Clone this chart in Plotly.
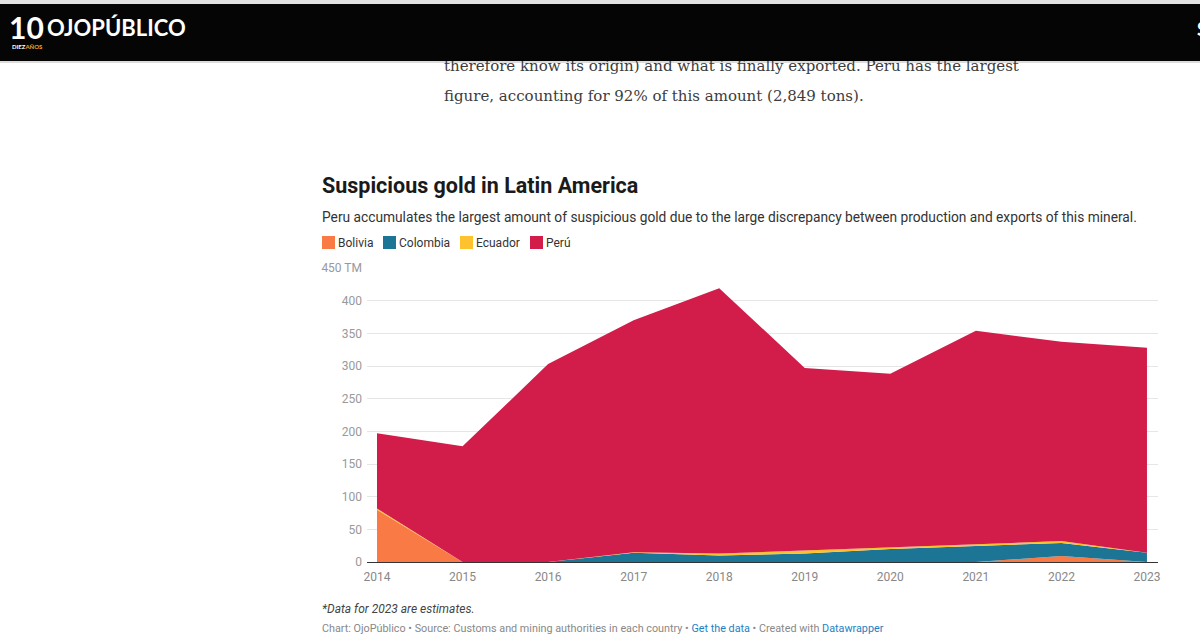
import plotly.graph_objects as go

# ---------------- data ----------------
years = [2014, 2015, 2016, 2017, 2018, 2019, 2020, 2021, 2022, 2023]
bolivia = [80, 0, 0, 0, 0, 0, 0, 0, 9, 0]
colombia = [0, 0, 0, 14, 10, 13, 20, 25, 20, 14]
ecuador = [2, 0, 0, 1, 3, 5, 2, 2, 3, 0]
peru = [115, 177, 303, 355, 406, 279, 266, 327, 305, 314]

series_names = ["Bolivia", "Colombia", "Ecuador", "Perú"]
series_values = [bolivia, colombia, ecuador, peru]
series_colors = ["#f97a45", "#1d7595", "#fdc22d", "#d21c4a"]

y_ticks = [0, 50, 100, 150, 200, 250, 300, 350, 400, 450]
y_ticktext = [str(v) for v in y_ticks[:-1]] + ["450 TM"]

title = "Suspicious gold in Latin America"
subtitle = ("Peru accumulates the largest amount of suspicious gold due to the large "
            "discrepancy between production and exports of this mineral.")
note = "*Data for 2023 are estimates."
link_col = "#1d81c4"
credits = ("Chart: OjoPúblico • Source: Customs and mining authorities in each country • "
           f"<span style='color:{link_col}'>Get the data</span> • Created with "
           f"<span style='color:{link_col}'>Datawrapper</span>")
article_lines = [
    "therefore know its origin) and what is finally exported. Peru has the largest",
    "figure, accounting for 92% of this amount (2,849 tons).",
]

# ---------------- page geometry (pixels) ----------------
W, H = 1200, 643
PL, PR, PT, PB = 367, 1158, 268, 562  # plot area in page pixels


def px(x):
    return (x - PL) / (PR - PL)


def py(y):
    return (PB - y) / (PB - PT)


fig = go.Figure()

for name, vals, col in zip(series_names, series_values, series_colors):
    fig.add_trace(go.Scatter(
        x=years, y=vals, name=name, stackgroup="one", mode="lines",
        line=dict(width=0, color=col), fillcolor=col,
        hovertemplate=name + " %{x}: %{y}<extra></extra>",
    ))

shapes = [
    dict(type="rect", xref="paper", yref="paper", x0=px(0), x1=px(W), y0=py(0), y1=py(4),
         fillcolor="#e2e2e2", line=dict(width=0), layer="above"),
    dict(type="rect", xref="paper", yref="paper", x0=px(0), x1=px(W), y0=py(61), y1=py(63),
         fillcolor="#dcdcdc", line=dict(width=0), layer="above"),
]

annotations = []
# article text (first line partly hidden under the header bar)
for line, yy in zip(article_lines, [66, 96]):
    annotations.append(dict(text=line, x=px(442), y=py(yy), xanchor="left", yanchor="middle",
                            font=dict(family="DejaVu Serif", size=15, color="#3c3c3c")))
# header bar drawn as an opaque box on top of the first line
annotations.append(dict(text=" ", x=px(0), y=py(4), xanchor="left", yanchor="top",
                        width=W, height=57, bgcolor="#050505", borderpad=0, borderwidth=0,
                        font=dict(size=10, color="#050505")))
annotations += [
    dict(text="<b>10</b>", x=px(7), y=py(27), xanchor="left", yanchor="middle",
         font=dict(family="Lato", size=30, color="white")),
    dict(text="<b>DIEZ<span style='color:#f5a623'>AÑOS</span></b>", x=px(10), y=py(46),
         xanchor="left", yanchor="middle", font=dict(family="Lato", size=6, color="white")),
    dict(text="<b>OJOPÚBLICO</b>", x=px(45), y=py(27), xanchor="left", yanchor="middle",
         font=dict(family="Lato", size=22, color="white")),
    dict(text="<b>S</b>", x=px(1195), y=py(29), xanchor="left", yanchor="middle",
         font=dict(family="Lato", size=18, color="white")),
    dict(text=f"<b>{title}</b>", x=px(320), y=py(185), xanchor="left", yanchor="middle",
         font=dict(family="Roboto", size=21.5, color="#1a1a1a")),
    dict(text=subtitle, x=px(320), y=py(217), xanchor="left", yanchor="middle",
         font=dict(family="Roboto", size=13.75, color="#333333")),
    dict(text=f"<i>{note}</i>", x=px(320), y=py(609), xanchor="left", yanchor="middle",
         font=dict(family="Roboto", size=12, color="#444444")),
    dict(text=credits, x=px(320), y=py(628), xanchor="left", yanchor="middle",
         font=dict(family="Roboto", size=10.8, color="#888888")),
]

# legend (manual, Datawrapper style)
legend_x = [322, 383, 460, 530]
for lx, name, col in zip(legend_x, series_names, series_colors):
    shapes.append(dict(type="rect", xref="paper", yref="paper",
                       x0=px(lx), x1=px(lx + 13), y0=py(249), y1=py(236),
                       fillcolor=col, line=dict(width=0), layer="above"))
    annotations.append(dict(text=name, x=px(lx + 14), y=py(242.5), xanchor="left",
                            yanchor="middle",
                            font=dict(family="Roboto", size=12, color="#333333")))

for a in annotations:
    a.update(xref="paper", yref="paper", showarrow=False)

fig.update_layout(
    width=W, height=H,
    margin=dict(l=PL, r=W - PR, t=PT, b=H - PB, pad=0),
    paper_bgcolor="white", plot_bgcolor="white",
    showlegend=False,
    font=dict(family="Roboto", color="#888888"),
    xaxis=dict(range=[2013.883, 2023.129], tickvals=years, showgrid=False,
               zeroline=False, showline=True, linecolor="#333333", linewidth=1,
               ticks="outside", ticklen=4, tickcolor="rgba(0,0,0,0)",
               tickfont=dict(family="Roboto", size=12, color="#888888"),
               fixedrange=True),
    yaxis=dict(range=[0, 450], tickvals=y_ticks, ticktext=y_ticktext,
               showgrid=True, gridcolor="#e6e6e6", gridwidth=1, zeroline=False,
               ticks="", ticklabelstandoff=4,
               tickfont=dict(family="Roboto", size=12, color="#999999"),
               fixedrange=True),
    shapes=shapes,
    annotations=annotations,
)

fig.write_html("out.html", config={"displayModeBar": False},
               post_script="document.body.style.margin='0';document.body.style.overflow='hidden';")
